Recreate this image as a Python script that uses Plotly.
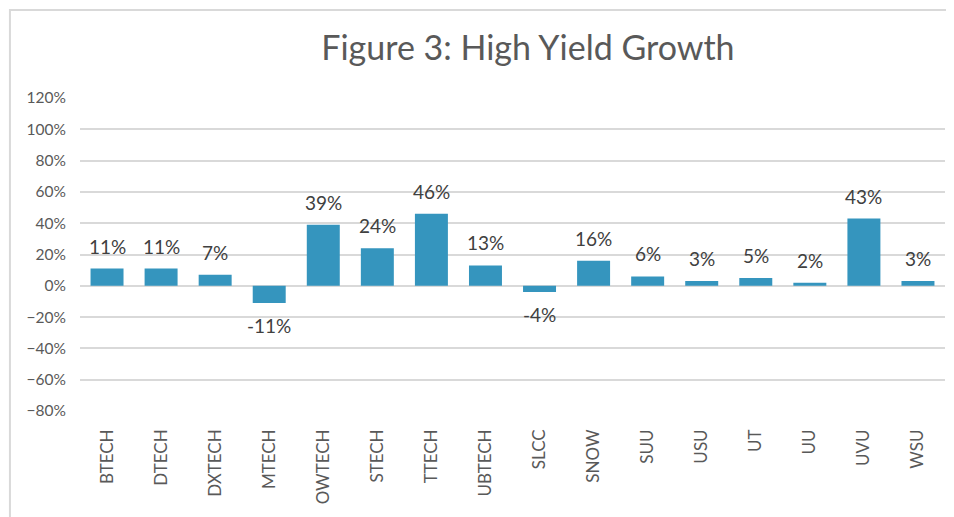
import plotly.graph_objects as go

schools = ["BTECH", "DTECH", "DXTECH", "MTECH", "OWTECH", "STECH", "TTECH", "UBTECH",
           "SLCC", "SNOW", "SUU", "USU", "UT", "UU", "UVU", "WSU"]
growth = [0.11, 0.11, 0.07, -0.11, 0.39, 0.24, 0.46, 0.13,
          -0.04, 0.16, 0.06, 0.03, 0.05, 0.02, 0.43, 0.03]

y_ticks = [-0.8, -0.6, -0.4, -0.2, 0, 0.2, 0.4, 0.6, 0.8, 1.0, 1.2]

fig = go.Figure()

fig.add_trace(go.Bar(
    x=schools, y=growth,
    marker=dict(color="#3595be", line=dict(width=0)),
    cliponaxis=False,
))

# étiquettes de données, un peu décollées des barres
for s, v in zip(schools, growth):
    fig.add_annotation(x=s, y=v, text=f"{v:.0%}", showarrow=False,
                       yanchor="bottom" if v >= 0 else "top",
                       yshift=9 if v >= 0 else -9,
                       font=dict(size=19, color="#404040"))

# cadre gris clair autour de la zone du graphique
fig.add_shape(type="rect", xref="paper", yref="paper",
              x0=-0.081, x1=1.3, y0=-0.6, y1=1.281,
              line=dict(color="#d9d9d9", width=2), layer="below")

# la page ajoute ~8 px de marge : on compense dans les marges
fig.update_layout(
    width=954, height=517,
    margin=dict(l=72, r=17, t=90, b=114, autoexpand=False),
    paper_bgcolor="white", plot_bgcolor="white",
    font=dict(family="Lato", color="#595959"),
    title=dict(text="Figure 3: High Yield Growth", x=0.545, xref="container",
               xanchor="center", y=0.923, yanchor="middle",
               font=dict(size=34, color="#595959")),
    bargap=0.39,
    showlegend=False,
)

fig.update_yaxes(range=[-0.8, 1.2], tickvals=y_ticks, tickformat=".0%",
                 showgrid=True, gridcolor="#d9d9d9", gridwidth=1.5,
                 zeroline=True, zerolinecolor="#d9d9d9", zerolinewidth=1.5,
                 tickfont=dict(size=15.5, color="#595959"), ticks="",
                 ticklabelstandoff=13, automargin=False)
fig.update_xaxes(tickangle=-90, tickfont=dict(size=17, color="#595959"),
                 showline=False, ticks="", ticklabelstandoff=14, automargin=False)

fig.write_html("out.html")
